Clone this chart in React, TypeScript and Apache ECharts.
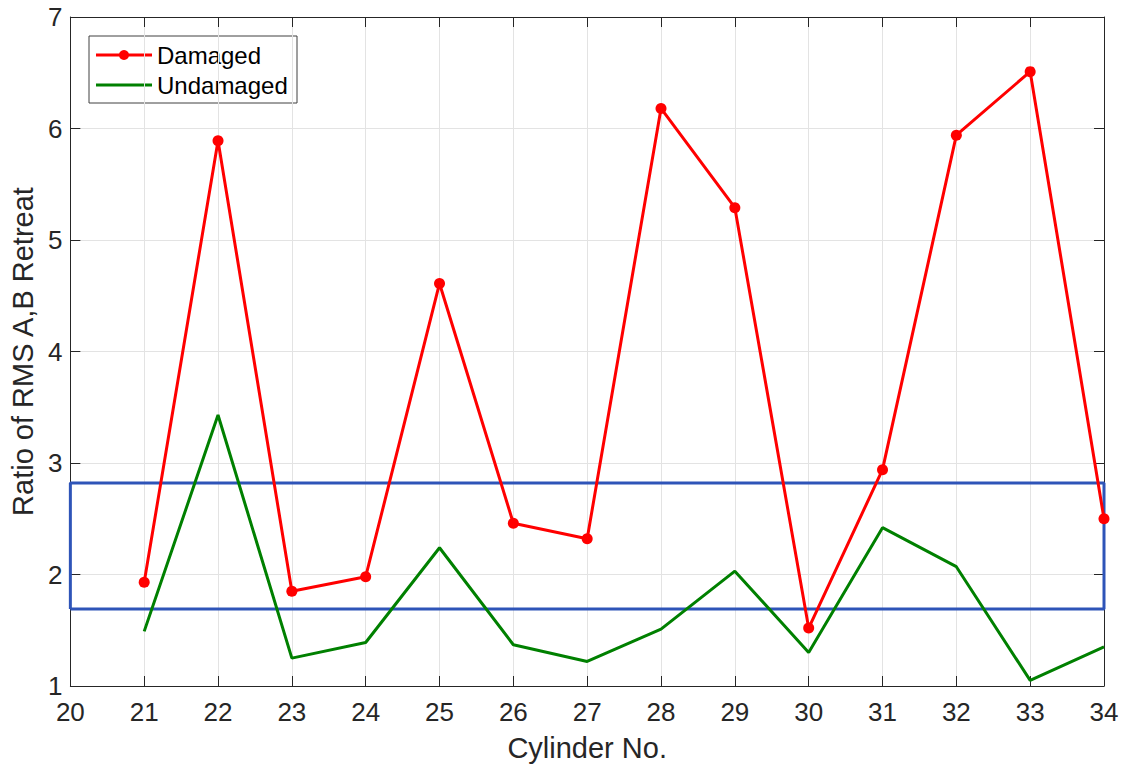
import React, { useEffect, useRef } from "react";
import * as echarts from "echarts";

const cylinders = [21, 22, 23, 24, 25, 26, 27, 28, 29, 30, 31, 32, 33, 34];
const damaged = [1.93, 5.89, 1.85, 1.98, 4.61, 2.46, 2.32, 6.18, 5.29, 1.52, 2.94, 5.94, 6.51, 2.5];
const undamaged = [1.49, 3.43, 1.25, 1.39, 2.24, 1.37, 1.22, 1.51, 2.03, 1.3, 2.42, 2.07, 1.05, 1.35];
const bandLow = 1.69;
const bandHigh = 2.82;
const xMin = 20;
const xMax = 34;
const yMin = 1;
const yMax = 7;

const FONT = "'Liberation Sans', Arial, sans-serif";
const AX = "#262626";
const RED = "#ff0000";
const GREEN = "#008000";
const BLUE = "#2e54b8";

export default function App() {
  const ref = useRef<HTMLDivElement>(null);
  useEffect(() => {
    if (!ref.current) return;
    const chart = echarts.init(ref.current, null, { renderer: "svg" });
    const band = [
      [xMin, bandLow],
      [xMin, bandHigh],
      [xMax, bandHigh],
      [xMax, bandLow],
      [xMin, bandLow],
    ];
    const baseX = {
      type: "value",
      min: xMin,
      max: xMax,
      interval: 1,
      axisLine: { show: true, lineStyle: { color: AX, width: 1 } },
      axisTick: { show: true, inside: true, length: 10, lineStyle: { color: AX } },
      splitLine: { show: false },
    };
    const baseY = {
      type: "value",
      min: yMin,
      max: yMax,
      interval: 1,
      axisLine: { show: true, lineStyle: { color: AX, width: 1 } },
      axisTick: { show: true, inside: true, length: 10, lineStyle: { color: AX } },
      splitLine: { show: false },
    };
    chart.setOption({
      animation: false,
      textStyle: { fontFamily: FONT },
      grid: { left: 69, right: 19, top: 17, bottom: 81 },
      graphic: [
        {
          type: "group",
          x: 89,
          y: 36,
          z: 100,
          children: [
            {
              type: "rect",
              shape: { x: 0, y: 0, width: 208, height: 67 },
              style: { fill: "#fff", stroke: "#404040", lineWidth: 1 },
            },
            {
              type: "line",
              shape: { x1: 7, y1: 19, x2: 63, y2: 19 },
              style: { stroke: RED, lineWidth: 3 },
            },
            {
              type: "circle",
              shape: { cx: 35, cy: 19, r: 5 },
              style: { fill: RED },
            },
            {
              type: "text",
              x: 68,
              y: 19,
              style: { text: "Damaged", fill: "#000", font: `24px ${FONT}`, verticalAlign: "middle", align: "left" },
            },
            {
              type: "line",
              shape: { x1: 7, y1: 49, x2: 63, y2: 49 },
              style: { stroke: GREEN, lineWidth: 3 },
            },
            {
              type: "text",
              x: 68,
              y: 49,
              style: { text: "Undamaged", fill: "#000", font: `24px ${FONT}`, verticalAlign: "middle", align: "left" },
            },
          ],
        },
      ],
      xAxis: [
        {
          ...baseX,
          position: "bottom",
          name: "Cylinder No.",
          nameLocation: "middle",
          nameGap: 47,
          nameTextStyle: { fontFamily: FONT, fontSize: 29, color: AX },
          axisLabel: { fontFamily: FONT, fontSize: 26, color: AX, margin: 13 },
          splitLine: { show: true, lineStyle: { color: "#e3e3e3", width: 1 } },
        },
        {
          ...baseX,
          position: "top",
          axisLabel: { show: false },
        },
      ],
      yAxis: [
        {
          ...baseY,
          position: "left",
          name: "Ratio of RMS A,B Retreat",
          nameLocation: "middle",
          nameGap: 32,
          nameTextStyle: { fontFamily: FONT, fontSize: 29, color: AX },
          axisLabel: { fontFamily: FONT, fontSize: 26, color: AX, margin: 8 },
          splitLine: { show: true, lineStyle: { color: "#e3e3e3", width: 1 } },
        },
        {
          ...baseY,
          position: "right",
          axisLabel: { show: false },
        },
      ],
      series: [
        {
          name: "Band",
          type: "line",
          data: band,
          symbol: "none",
          lineStyle: { color: BLUE, width: 3 },
          z: 3,
          silent: true,
        },
        {
          name: "Undamaged",
          type: "line",
          data: cylinders.map((c, i) => [c, undamaged[i]]),
          symbol: "none",
          itemStyle: { color: GREEN },
          lineStyle: { color: GREEN, width: 3 },
          z: 4,
        },
        {
          name: "Damaged",
          type: "line",
          data: cylinders.map((c, i) => [c, damaged[i]]),
          symbol: "circle",
          symbolSize: 11,
          itemStyle: { color: RED },
          lineStyle: { color: RED, width: 3 },
          z: 5,
        },
      ],
    });
    return () => chart.dispose();
  }, []);
  return <div ref={ref} style={{ width: 1123, height: 767, position: "absolute", left: 0, top: 0, background: "#fff" }} />;
}
